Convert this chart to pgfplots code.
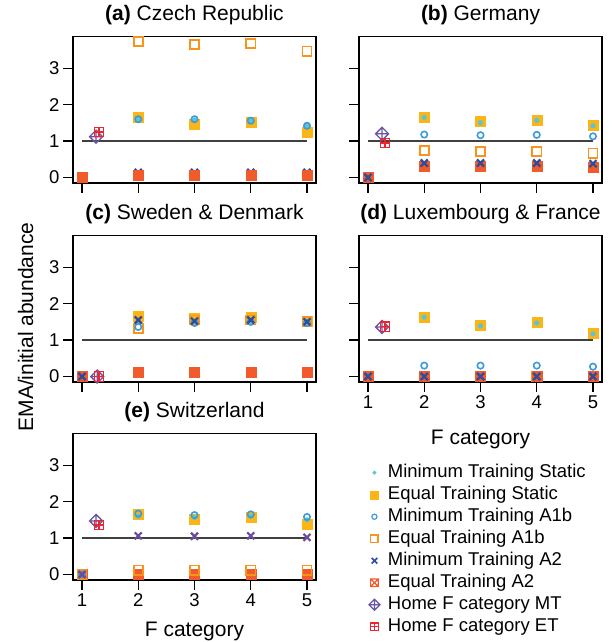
\documentclass[border=0pt]{standalone}
\usepackage{fontspec}
\setmainfont{Liberation Sans}
\usepackage{pgfplots}
\pgfplotsset{compat=1.18}
\definecolor{cMTS}{HTML}{5BC5D6}
\definecolor{cETS}{HTML}{FDB515}
\definecolor{cMTA}{HTML}{3D9BD8}
\definecolor{cETA}{HTML}{F7941E}
\definecolor{cMTB}{HTML}{2E4C9E}
\definecolor{cETB}{HTML}{F15A2A}
\definecolor{cHMT}{HTML}{6A56A5}
\definecolor{cHET}{HTML}{EE2431}
\definecolor{cPur}{HTML}{6B4C9A}
\newcommand\ticksize{\fontsize{18.5bp}{20bp}\selectfont}
\newcommand\labsize{\fontsize{21bp}{24bp}\selectfont}
\pgfdeclareplotmark{boxx}{%
  \pgfpathrectangle{\pgfqpoint{-\pgfplotmarksize}{-\pgfplotmarksize}}{\pgfqpoint{2\pgfplotmarksize}{2\pgfplotmarksize}}%
  \pgfpathmoveto{\pgfqpoint{-\pgfplotmarksize}{-\pgfplotmarksize}}%
  \pgfpathlineto{\pgfqpoint{\pgfplotmarksize}{\pgfplotmarksize}}%
  \pgfpathmoveto{\pgfqpoint{-\pgfplotmarksize}{\pgfplotmarksize}}%
  \pgfpathlineto{\pgfqpoint{\pgfplotmarksize}{-\pgfplotmarksize}}%
  \pgfusepathqstroke}
\pgfdeclareplotmark{boxplus}{%
  \pgfpathrectangle{\pgfqpoint{-\pgfplotmarksize}{-\pgfplotmarksize}}{\pgfqpoint{2\pgfplotmarksize}{2\pgfplotmarksize}}%
  \pgfpathmoveto{\pgfqpoint{0pt}{-\pgfplotmarksize}}%
  \pgfpathlineto{\pgfqpoint{0pt}{\pgfplotmarksize}}%
  \pgfpathmoveto{\pgfqpoint{-\pgfplotmarksize}{0pt}}%
  \pgfpathlineto{\pgfqpoint{\pgfplotmarksize}{0pt}}%
  \pgfusepathqstroke}
\pgfdeclareplotmark{diamplus}{%
  \pgfpathmoveto{\pgfqpoint{0pt}{\pgfplotmarksize}}%
  \pgfpathlineto{\pgfqpoint{\pgfplotmarksize}{0pt}}%
  \pgfpathlineto{\pgfqpoint{0pt}{-\pgfplotmarksize}}%
  \pgfpathlineto{\pgfqpoint{-\pgfplotmarksize}{0pt}}%
  \pgfpathclose
  \pgfpathmoveto{\pgfqpoint{0pt}{-\pgfplotmarksize}}%
  \pgfpathlineto{\pgfqpoint{0pt}{\pgfplotmarksize}}%
  \pgfpathmoveto{\pgfqpoint{-\pgfplotmarksize}{0pt}}%
  \pgfpathlineto{\pgfqpoint{\pgfplotmarksize}{0pt}}%
  \pgfusepathqstroke}
\pgfplotsset{
  panel/.style={scale only axis, width=243bp, height=146.5bp,
    xmin=0.84, xmax=5.16, ymin=-0.15, ymax=3.87,
    xtick={1,2,3,4,5}, ytick={0,1,2,3},
    tick align=outside, xtick pos=bottom, ytick pos=left,
    major tick length=10bp,
    axis line style={line width=1.2bp},
    tick style={line width=1.2bp, black},
    /pgf/number format/assume math mode=true,
    ticklabel style={font=\ticksize},
    clip=false,
    title style={at={(0.5,1)}, anchor=base, yshift=10bp, font=\labsize}},
  one/.style={forget plot, black!75, line width=1.3bp},
  sMTS/.style={forget plot, only marks, mark=*, mark size=2.4bp, color=cMTS},
  sETS/.style={forget plot, only marks, mark=square*, mark size=5bp, color=cETS},
  sMTA/.style={forget plot, only marks, mark=o, mark size=3.2bp, line width=1.6bp, color=cMTA},
  sETA/.style={forget plot, only marks, mark=square, mark size=4.6bp, line width=1.7bp, color=cETA},
  sMTB/.style={forget plot, only marks, mark=x, mark size=5bp, line width=2.2bp, color=cMTB},
  sETB/.style={forget plot, only marks, mark=square*, mark size=5bp, color=cETB},
  sHMT/.style={forget plot, only marks, mark=diamplus, mark size=6.5bp, line width=1.3bp, color=cHMT},
  sHET/.style={forget plot, only marks, mark=boxplus, mark size=4.7bp, line width=1.3bp, color=cHET},
}
\begin{document}
\begin{tikzpicture}
\path[use as bounding box] (0,0) rectangle (613bp,642bp);
% (a)
\begin{axis}[panel, at={(73bp,459bp)}, anchor=south west, xticklabels={},
  title={\textbf{(a)} Czech Republic}]
\addplot[one] coordinates {(1,1) (5,1)};
\addplot[sETS] coordinates {(1,0) (2,1.65) (3,1.45) (4,1.52) (5,1.25)};
\addplot[sMTS] coordinates {(1,0) (2,1.60) (3,1.58) (4,1.55) (5,1.42)};
\addplot[sETA] coordinates {(1,0) (2,3.73) (3,3.65) (4,3.68) (5,3.47)};
\addplot[sMTA] coordinates {(1,0) (2,1.60) (3,1.60) (4,1.56) (5,1.42)};
\addplot[sMTB] coordinates {(1,0) (2,0.14) (3,0.14) (4,0.14) (5,0.14)};
\addplot[sETB] coordinates {(1,0) (2,0.07) (3,0.07) (4,0.07) (5,0.07)};
\addplot[sHMT] coordinates {(1.25,1.12)};
\addplot[sHET] coordinates {(1.30,1.25)};
\end{axis}
% (b)
\begin{axis}[panel, at={(359bp,459bp)}, anchor=south west, xticklabels={}, yticklabels={},
  title={\textbf{(b)} Germany}]
\addplot[one] coordinates {(1,1) (5,1)};
\addplot[sETS] coordinates {(1,0) (2,1.65) (3,1.54) (4,1.56) (5,1.44)};
\addplot[sMTS] coordinates {(1,0) (2,1.65) (3,1.50) (4,1.57) (5,1.42)};
\addplot[sETA] coordinates {(1,0) (2,0.74) (3,0.72) (4,0.72) (5,0.67)};
\addplot[sMTA] coordinates {(1,0) (2,1.18) (3,1.16) (4,1.17) (5,1.13)};
\addplot[sETB] coordinates {(1,0) (2,0.31) (3,0.31) (4,0.31) (5,0.29)};
\addplot[sMTB] coordinates {(1,0) (2,0.40) (3,0.40) (4,0.40) (5,0.38)};
\addplot[sHMT] coordinates {(1.25,1.20)};
\addplot[sHET] coordinates {(1.30,0.95)};
\end{axis}
% (c)
\begin{axis}[panel, at={(73bp,260bp)}, anchor=south west, xticklabels={},
  title={\textbf{(c)} Sweden \& Denmark}]
\addplot[one] coordinates {(1,1) (5,1)};
\addplot[sETS] coordinates {(1,0) (2,1.65) (3,1.60) (4,1.62) (5,1.53)};
\addplot[sMTS] coordinates {(1,0) (2,1.50) (3,1.47) (4,1.50) (5,1.47)};
\addplot[sETA] coordinates {(1,0) (2,1.33) (3,1.55) (4,1.55) (5,1.50)};
\addplot[sMTA] coordinates {(1,0) (2,1.36) (3,1.47) (4,1.50) (5,1.47)};
\addplot[sETB] coordinates {(1,0) (2,0.12) (3,0.12) (4,0.12) (5,0.12)};
\addplot[sMTB] coordinates {(1,0) (2,1.55) (3,1.52) (4,1.55) (5,1.50)};
\addplot[sHMT] coordinates {(1.27,0)};
\addplot[sHET] coordinates {(1.30,0)};
\end{axis}
% (d)
\begin{axis}[panel, at={(359bp,260bp)}, anchor=south west, yticklabels={},
  title={\textbf{(d)} Luxembourg \& France}]
\addplot[one] coordinates {(1,1) (5,1)};
\addplot[sETS] coordinates {(1,0) (2,1.63) (3,1.40) (4,1.48) (5,1.18)};
\addplot[sMTS] coordinates {(1,0) (2,1.63) (3,1.39) (4,1.47) (5,1.17)};
\addplot[sETA] coordinates {(1,0) (2,0) (3,0) (4,0) (5,0)};
\addplot[sMTA] coordinates {(1,0) (2,0.30) (3,0.30) (4,0.30) (5,0.27)};
\addplot[sETB] coordinates {(1,0) (2,0) (3,0) (4,0) (5,0)};
\addplot[sMTB] coordinates {(1,0) (2,0) (3,0) (4,0) (5,0)};
\addplot[sHMT] coordinates {(1.25,1.36)};
\addplot[sHET] coordinates {(1.30,1.37)};
\node[anchor=base, font=\labsize, yshift=-63bp] at (rel axis cs:0.5,0) {F category};
\end{axis}
% (e)
\begin{axis}[panel, at={(73bp,62bp)}, anchor=south west,
  title={\textbf{(e)} Switzerland},
  legend style={at={(axis description cs:1.217,0.795)}, anchor=north west,
    draw=none, fill=none, inner sep=0pt, font=\ticksize,
    nodes={inner sep=0pt, text height=14bp, text depth=4bp}, row sep=4bp,
    column sep=8bp},
  legend cell align=left]
\addplot[one] coordinates {(1,1) (5,1)};
\addplot[sETS] coordinates {(1,0) (2,1.65) (3,1.53) (4,1.57) (5,1.39)};
\addplot[sMTS] coordinates {(1,0) (2,1.60) (3,1.57) (4,1.60) (5,1.50)};
\addplot[sETB] coordinates {(1,0) (2,0) (3,0) (4,0) (5,0)};
\addplot[sETA] coordinates {(1,0) (2,0.12) (3,0.12) (4,0.12) (5,0.12)};
\addplot[sMTA] coordinates {(1,0) (2,1.67) (3,1.63) (4,1.65) (5,1.58)};
\addplot[sMTB, color=cPur] coordinates {(1,0) (2,1.06) (3,1.05) (4,1.06) (5,1.02)};
\addplot[sHMT] coordinates {(1.25,1.47)};
\addplot[sHET] coordinates {(1.30,1.36)};
\node[anchor=base, font=\labsize, yshift=-56bp] at (rel axis cs:0.5,0) {F category};
\addlegendimage{only marks, mark=*, mark size=1.8bp, color=cMTS}
\addlegendentry{Minimum Training Static}
\addlegendimage{only marks, mark=square*, mark size=4bp, color=cETS}
\addlegendentry{Equal Training Static}
\addlegendimage{only marks, mark=o, mark size=2.6bp, line width=1.2bp, color=cMTA}
\addlegendentry{Minimum Training A1b}
\addlegendimage{only marks, mark=square, mark size=3.6bp, line width=1.3bp, color=cETA}
\addlegendentry{Equal Training A1b}
\addlegendimage{only marks, mark=x, mark size=4bp, line width=1.6bp, color=cMTB}
\addlegendentry{Minimum Training A2}
\addlegendimage{only marks, mark=boxx, mark size=3.8bp, line width=1.2bp, color=cETB}
\addlegendentry{Equal Training A2}
\addlegendimage{only marks, mark=diamplus, mark size=5.5bp, line width=1.2bp, color=cHMT}
\addlegendentry{Home F category MT}
\addlegendimage{only marks, mark=boxplus, mark size=3.8bp, line width=1.2bp, color=cHET}
\addlegendentry{Home F category ET}
\end{axis}
\node[rotate=90, anchor=base, font=\labsize] at (33bp,315bp) {EMA/initial abundance};
\end{tikzpicture}
\end{document}
